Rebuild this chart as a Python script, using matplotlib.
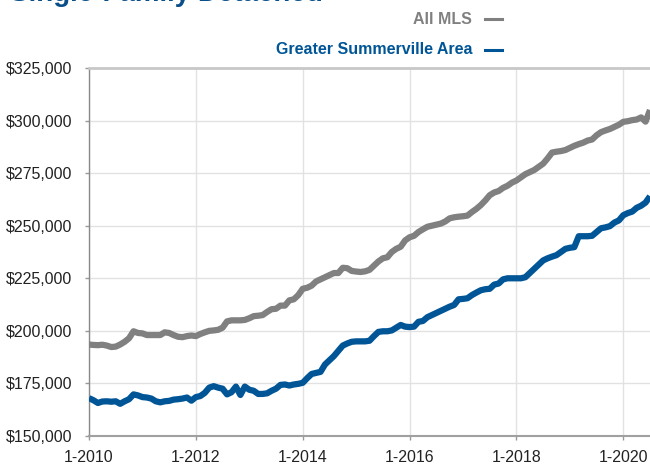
import matplotlib
matplotlib.use("Agg")
import matplotlib.pyplot as plt
from matplotlib import font_manager
from matplotlib.lines import Line2D
import numpy as np

# ---------------- data ----------------
start_year = 2010
all_mls = [
    193.5, 193.3, 193.2, 193.4, 193.0, 192.3, 192.5, 193.5, 194.8, 196.5,
    199.8, 199.0, 198.8, 198.0, 198.0, 198.0, 198.0, 199.3, 199.0, 198.0,
    197.2, 197.0, 197.5, 197.8, 197.5, 198.5, 199.3, 200.0, 200.2, 200.5,
    201.5, 204.5, 205.0, 205.0, 205.0, 205.2, 206.0, 207.0, 207.2, 207.5,
    209.0, 210.3, 210.5, 212.0, 212.0, 214.5, 215.0, 217.0, 220.0, 220.5,
    221.5, 223.5, 224.5, 225.5, 226.5, 227.5, 227.5, 230.0, 229.8, 228.5,
    228.2, 228.0, 228.3, 229.0, 231.0, 233.0, 234.5, 235.0, 237.5, 239.0,
    240.0, 243.0, 244.5, 245.2, 247.0, 248.3, 249.5, 250.0, 250.5, 251.0,
    252.0, 253.5, 254.0, 254.3, 254.5, 254.8, 256.5, 258.0, 259.8, 262.0,
    264.5, 265.8, 266.5, 268.0, 269.0, 270.5, 271.5, 273.0, 274.5, 275.5,
    276.5, 278.0, 279.5, 282.0, 284.8, 285.2, 285.5, 286.0, 287.0, 288.0,
    288.8, 289.5, 290.5, 291.0, 293.0, 294.5, 295.3, 296.0, 297.0, 298.0,
    299.4, 299.7, 300.2, 300.5, 301.5, 299.5, 305.0,
]
summerville = [
    168.0, 167.0, 165.7, 166.4, 166.5, 166.3, 166.5, 165.3, 166.5, 167.5,
    169.8, 169.3, 168.5, 168.3, 167.8, 166.5, 166.0, 166.5, 166.7, 167.3,
    167.5, 167.8, 168.3, 166.8, 168.5, 169.0, 170.5, 173.0, 173.7, 173.0,
    172.5, 169.8, 170.8, 173.5, 169.5, 173.5, 172.0, 171.5, 170.0, 170.0,
    170.3, 171.5, 172.5, 174.3, 174.5, 174.0, 174.5, 174.8, 175.3, 177.5,
    179.5, 180.0, 180.5, 184.0, 186.0, 188.0, 190.5, 193.0, 194.0, 194.8,
    195.0, 195.0, 195.0, 195.3, 197.5, 199.5, 199.8, 199.8, 200.2, 201.5,
    202.8, 202.0, 201.8, 202.0, 204.3, 204.7, 206.5, 207.5, 208.5, 209.5,
    210.5, 211.5, 212.3, 215.0, 215.2, 215.5, 217.0, 218.2, 219.3, 219.8,
    220.0, 222.0, 222.5, 224.5, 225.0, 225.0, 225.0, 225.0, 225.5, 227.5,
    229.5, 231.5, 233.5, 234.5, 235.3, 236.0, 237.5, 239.0, 239.5, 239.8,
    245.0, 245.0, 245.0, 245.2, 247.0, 248.8, 249.2, 249.8, 251.5, 252.5,
    255.0, 256.0, 256.7, 258.5, 259.5, 261.0, 264.0,
]
series_names = ["All MLS", "Greater Summerville Area"]
x_tick_labels = ["1-2010", "1-2012", "1-2014", "1-2016", "1-2018", "1-2020"]
y_ticks = [150000, 175000, 200000, 225000, 250000, 275000, 300000, 325000]
title = "Single-Family Detached"

# ---------------- fonts ----------------
avail = {f.name for f in font_manager.fontManager.ttflist}
base = "Liberation Sans" if "Liberation Sans" in avail else "DejaVu Sans"
plt.rcParams["font.family"] = [base, "DejaVu Sans"]

GRAY = "#808080"
BLUE = "#005596"
TITLE_BLUE = "#0b4f8a"

W, H = 650, 466
fig = plt.figure(figsize=(W / 100, H / 100), dpi=100)
ax = fig.add_axes([89 / W, 1 - 436 / H, (650 - 89) / W, (436 - 68) / H])

months = np.arange(len(all_mls))
ax.plot(months, np.array(all_mls) * 1000, color=GRAY, lw=4.5,
        solid_joinstyle="round", solid_capstyle="butt", zorder=3)
ax.plot(months, np.array(summerville) * 1000, color=BLUE, lw=4.5,
        solid_joinstyle="round", solid_capstyle="butt", zorder=3)

ax.set_ylim(150000, 325000)
ax.set_xlim(0, len(all_mls) - 1)
ax.set_yticks(y_ticks)
ax.set_yticklabels([f"${v:,.0f}" for v in y_ticks])
ax.set_xticks([24 * i for i in range(len(x_tick_labels))])
ax.set_xticklabels(x_tick_labels)

ax.grid(True, color="#e2e2e2", lw=1.0, zorder=0)
ax.tick_params(axis="both", length=3, width=1, color="#999999",
               labelsize=11.5, labelcolor="#222222")
ax.tick_params(axis="y", pad=9)
ax.tick_params(axis="x", pad=7)

ax.spines["right"].set_visible(False)
ax.spines["top"].set_color("#c8c8c8")
ax.spines["top"].set_linewidth(2)
ax.spines["left"].set_color("#8a8a8a")
ax.spines["left"].set_linewidth(1)
ax.spines["bottom"].set_color("#a0a0a0")
ax.spines["bottom"].set_linewidth(1.5)

# title, cut off at the top edge (as in the reference)
fig.text(10 / W, 1 - 1 / H, title, fontsize=20, fontweight="bold",
         color=TITLE_BLUE, ha="left", va="baseline", family=[base])

# legend (right-aligned text with dash keys)
leg_rows = [(series_names[0], GRAY, 19), (series_names[1], BLUE, 50)]
for name, col, yc in leg_rows:
    fig.text(472 / W, 1 - yc / H, name, fontsize=11.5, fontweight="bold",
             color=col, ha="right", va="center", family=[base])
    fig.add_artist(Line2D([485 / W, 502 / W], [1 - yc / H, 1 - yc / H],
                          color=col, lw=2.2, transform=fig.transFigure))

fig.savefig("out.png", dpi=100)
